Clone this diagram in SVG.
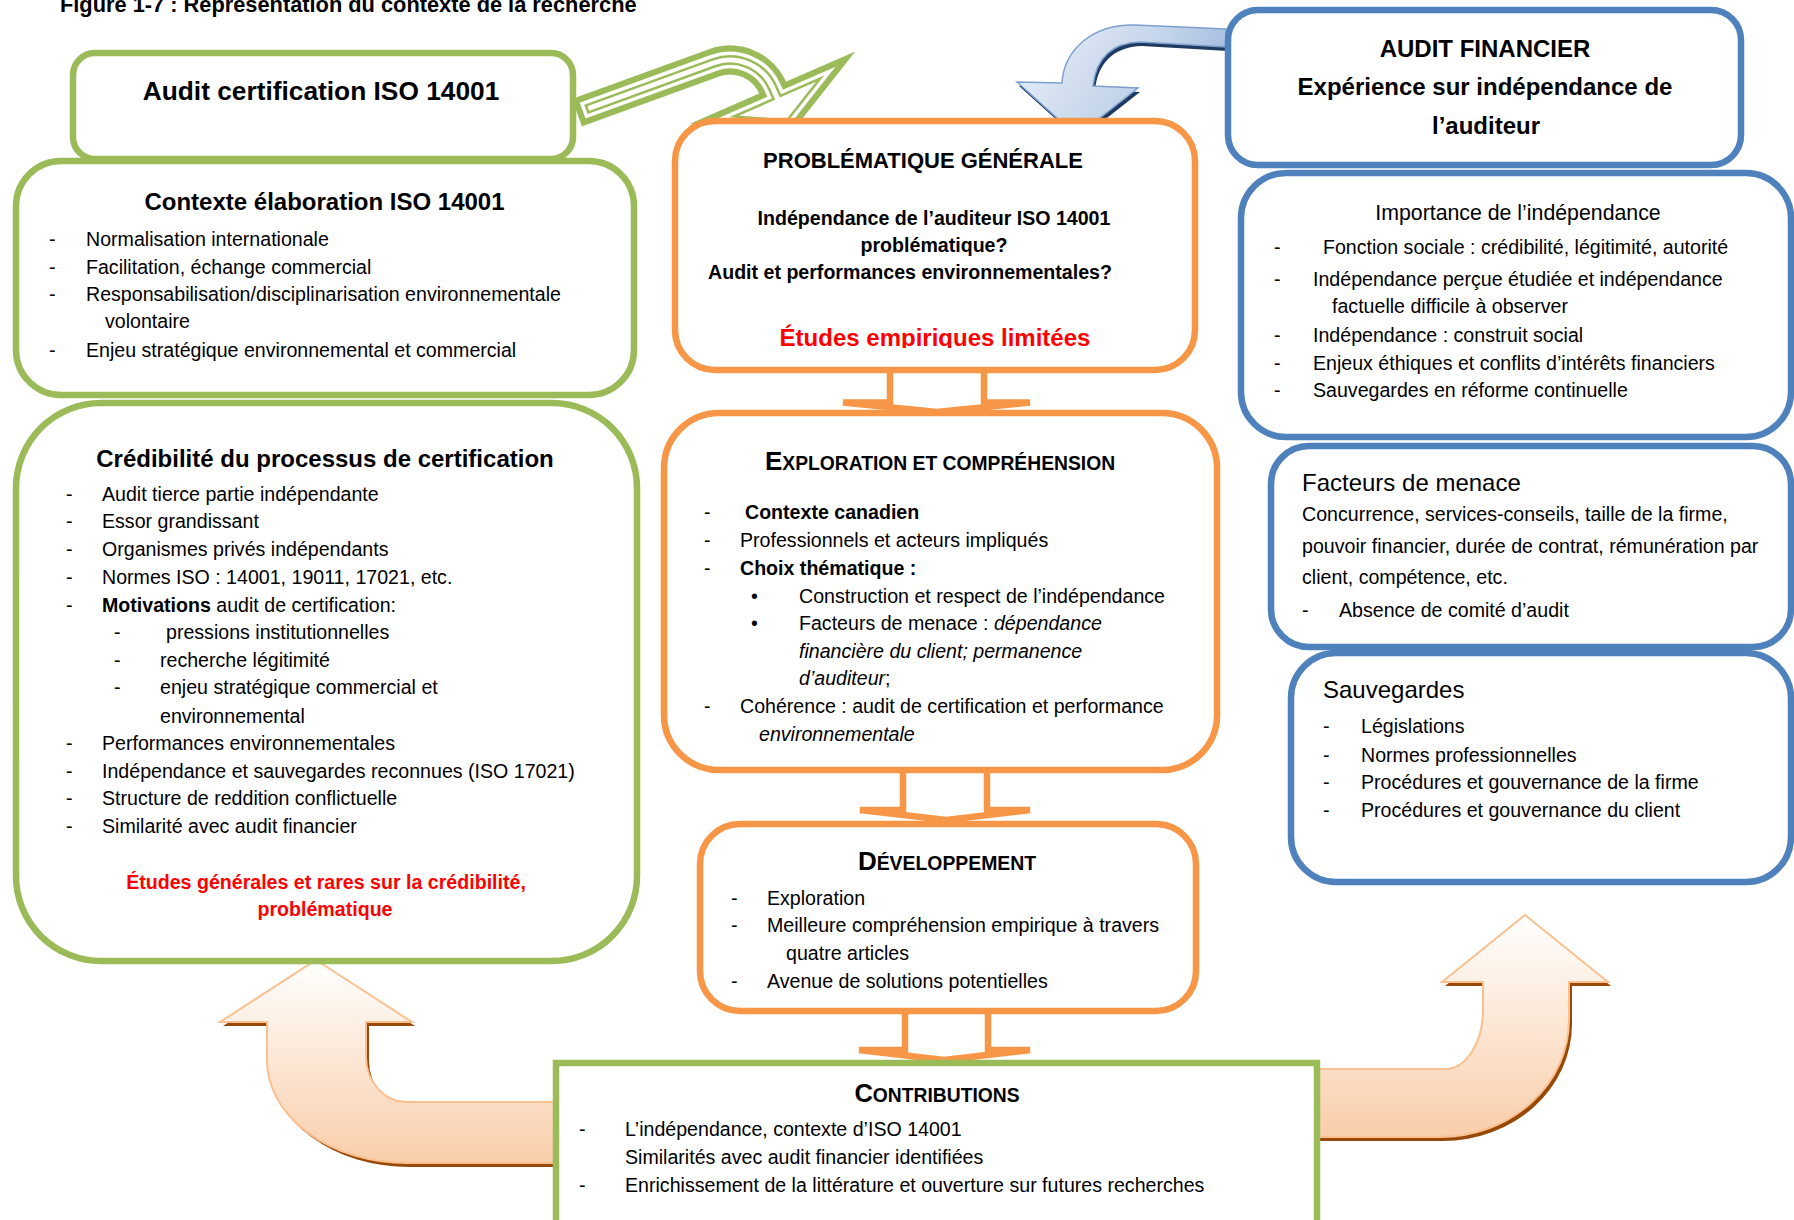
<svg xmlns="http://www.w3.org/2000/svg" width="1794" height="1220" viewBox="0 0 1794 1220">
  <defs>
    <style>
      text { font-family: 'Liberation Sans', Arial, sans-serif; font-size: 19.6px; fill: #000; }
      .b { font-weight: bold; }
      .i { font-style: italic; }
      .red { fill: #FF0000; }
      .c { text-anchor: middle; }
      .h24 { font-size: 24px; }
      .green { fill: #fff; stroke: #9BBB59; stroke-width: 6.5; }
      .orange { fill: #fff; stroke: #F79646; stroke-width: 6.5; }
      .blue { fill: #fff; stroke: #4F81BD; stroke-width: 6.5; }
      .conn { fill: none; stroke: #F79646; stroke-width: 6.5; stroke-linejoin: miter; }
      .uturn { fill: url(#peach); stroke: #FAC08F; stroke-width: 2; }
      .uturn-shadow { fill: #984807; }
    </style>
    <linearGradient id="peach" x1="0" y1="0" x2="0" y2="1">
      <stop offset="0" stop-color="#FFFFFF"/>
      <stop offset="1" stop-color="#F9CEAA"/>
    </linearGradient>
    <linearGradient id="sky" x1="0" y1="0.3" x2="1" y2="0.7">
      <stop offset="0" stop-color="#E6EDF7"/>
      <stop offset="0.55" stop-color="#C3D4EA"/>
      <stop offset="1" stop-color="#93B1DC"/>
    </linearGradient>
    <path id="curvedGreen" d="M572,99 L709.1,49.2 A61.2,61.2 0 0 1 785.9,81.8 L855,51.7 L791.9,131.7 L690.3,123.7 L759.4,93.6 A32.2,32.2 0 0 0 719,76.4 L582,126.2 Z"/>
    <clipPath id="curvedGreenClip">
      <use href="#curvedGreen"/>
    </clipPath>
    <path id="curvedBlue" d="M1226,29 L1135,25 C1092,24 1064,50 1062,83 L1017,82 L1077,136 L1138,88 L1093,86 C1096,60 1110,43 1140,42 L1226,47 Z"/>
    <path id="uLeft" d="M316,960 L412,1022 L366,1022 L366,1057 A41,45 0 0 0 407,1102 L560,1102 L560,1163 L407,1163 A140,103 0 0 1 267,1060 L267,1022 L220,1022 Z"/>
    <path id="uRight" d="M1525,915 L1608,982 L1569,982 L1569,1020 A129,117 0 0 1 1440,1137 L1300,1137 L1300,1069 L1445,1069 A38,59 0 0 0 1483,1010 L1483,982 L1442,982 Z"/>
    <clipPath id="redClip">
      <rect x="680" y="300" width="500" height="48"/>
    </clipPath>
  </defs>

  <rect width="1794" height="1220" fill="#fff"/>

  <g id="caption">
    <text x="60" y="12" class="b" style="font-size:21.8px">Figure 1-7 : Représentation du contexte de la recherche</text>
  </g>

  <!-- arrows and connectors, drawn beneath the boxes -->
  <g id="connectors">
    <!-- green double-outlined curved arrow -->
    <g id="arrow-audit-to-problem">
      <use href="#curvedGreen" fill="#fff"/>
      <g clip-path="url(#curvedGreenClip)" fill="none">
        <use href="#curvedGreen" stroke="#9BBB59" stroke-width="24"/>
        <use href="#curvedGreen" stroke="#fff" stroke-width="19"/>
        <use href="#curvedGreen" stroke="#9BBB59" stroke-width="12"/>
      </g>
    </g>
    <!-- blue curved arrow -->
    <g id="arrow-financial-to-problem">
      <use href="#curvedBlue" fill="#1F3A60" transform="translate(2,4)"/>
      <use href="#curvedBlue" fill="url(#sky)" stroke="#7E9FCE" stroke-width="1.5"/>
    </g>
    <!-- orange U-turn arrows -->
    <g id="arrow-contrib-left">
      <use href="#uLeft" class="uturn-shadow" transform="translate(3,4)"/>
      <use href="#uLeft" class="uturn"/>
    </g>
    <g id="arrow-contrib-right">
      <use href="#uRight" class="uturn-shadow" transform="translate(3,4)"/>
      <use href="#uRight" class="uturn"/>
    </g>
    <!-- flat block arrows down the middle column -->
    <path class="conn" d="M890,370 V402.5 H843 L937,412 L1030,402.5 H984 V370"/>
    <path class="conn" d="M903,770 V810 H860 L946,820 L1030,810 H987 V770"/>
    <path class="conn" d="M905,1011 V1050 H859 L944,1060 L1030,1050 H988 V1011"/>
  </g>

  <!-- left column -->
  <g id="audit-iso">
    <rect class="green" x="73" y="53" width="500" height="106" rx="22"/>
    <text x="321" y="100" class="b c" style="font-size:26.3px">Audit certification ISO 14001</text>
  </g>

  <g id="contexte-iso">
    <rect class="green" x="16" y="161" width="618" height="234" rx="45"/>
    <text x="324.5" y="210" class="b c h24">Contexte élaboration ISO 14001</text>
    <text x="49" y="246">-</text><text x="86" y="246">Normalisation internationale</text>
    <text x="49" y="274">-</text><text x="86" y="274">Facilitation, échange commercial</text>
    <text x="49" y="301">-</text><text x="86" y="301">Responsabilisation/disciplinarisation environnementale</text>
    <text x="105" y="328">volontaire</text>
    <text x="49" y="357">-</text><text x="86" y="357">Enjeu stratégique environnemental et commercial</text>
  </g>

  <g id="credibilite">
    <rect class="green" x="16" y="403" width="621" height="558" rx="85"/>
    <text x="325" y="467" class="b c h24">Crédibilité du processus de certification</text>
    <text x="66" y="500.5">-</text><text x="102" y="500.5">Audit tierce partie indépendante</text>
    <text x="66" y="528">-</text><text x="102" y="528">Essor grandissant</text>
    <text x="66" y="556">-</text><text x="102" y="556">Organismes privés indépendants</text>
    <text x="66" y="584">-</text><text x="102" y="584">Normes ISO : 14001, 19011, 17021, etc.</text>
    <text x="66" y="611.5">-</text><text x="102" y="611.5"><tspan class="b">Motivations</tspan> audit de certification:</text>
    <text x="114" y="639">-</text><text x="166" y="639">pressions institutionnelles</text>
    <text x="114" y="667">-</text><text x="160" y="667">recherche légitimité</text>
    <text x="114" y="694">-</text><text x="160" y="694">enjeu stratégique commercial et</text>
    <text x="160" y="722.5">environnemental</text>
    <text x="66" y="750">-</text><text x="102" y="750">Performances environnementales</text>
    <text x="66" y="778">-</text><text x="102" y="778">Indépendance et sauvegardes reconnues (ISO 17021)</text>
    <text x="66" y="805">-</text><text x="102" y="805">Structure de reddition conflictuelle</text>
    <text x="66" y="833">-</text><text x="102" y="833">Similarité avec audit financier</text>
    <text x="326" y="888.5" class="b c red">Études générales et rares sur la crédibilité,</text>
    <text x="325" y="916" class="b c red">problématique</text>
  </g>

  <!-- middle column -->
  <g id="problematique">
    <rect class="orange" x="675" y="121" width="520" height="249" rx="40"/>
    <text x="923" y="168" class="b c" style="font-size:22px">PROBLÉMATIQUE GÉNÉRALE</text>
    <text x="934" y="225" class="b c">Indépendance de l’auditeur ISO 14001</text>
    <text x="934" y="252" class="b c">problématique?</text>
    <text x="910" y="279" class="b c">Audit et performances environnementales?</text>
    <text x="935" y="346" class="b c h24 red" clip-path="url(#redClip)">Études empiriques limitées</text>
  </g>

  <g id="exploration">
    <rect class="orange" x="664" y="413" width="553" height="357" rx="55"/>
    <text x="940" y="470" class="b c" style="font-size:19.3px"><tspan style="font-size:26px">E</tspan>XPLORATION ET COMPRÉHENSION</text>
    <text x="704" y="519">-</text><text x="745" y="519" class="b">Contexte canadien</text>
    <text x="704" y="547">-</text><text x="740" y="547">Professionnels et acteurs impliqués</text>
    <text x="704" y="575">-</text><text x="740" y="575" class="b">Choix thématique :</text>
    <text x="751" y="603">•</text><text x="799" y="603">Construction et respect de l’indépendance</text>
    <text x="751" y="630">•</text><text x="799" y="630">Facteurs de menace : <tspan class="i">dépendance</tspan></text>
    <text x="799" y="658" class="i">financière du client; permanence</text>
    <text x="799" y="685"><tspan class="i">d’auditeur</tspan>;</text>
    <text x="704" y="713">-</text><text x="740" y="713">Cohérence : audit de certification et performance</text>
    <text x="759" y="741" class="i">environnementale</text>
  </g>

  <g id="developpement">
    <rect class="orange" x="700" y="824" width="496" height="187" rx="40"/>
    <text x="947" y="870" class="b c" style="font-size:19.4px"><tspan style="font-size:26px">D</tspan>ÉVELOPPEMENT</text>
    <text x="731" y="904.5">-</text><text x="767" y="904.5">Exploration</text>
    <text x="731" y="932">-</text><text x="767" y="932">Meilleure compréhension empirique à travers</text>
    <text x="786" y="960">quatre articles</text>
    <text x="731" y="988">-</text><text x="767" y="988">Avenue de solutions potentielles</text>
  </g>

  <g id="contributions">
    <rect class="green" x="556" y="1063" width="761" height="200"/>
    <text x="937" y="1102" class="b c" style="font-size:19.3px"><tspan style="font-size:25.5px">C</tspan>ONTRIBUTIONS</text>
    <text x="579" y="1135.5">-</text><text x="625" y="1135.5">L’indépendance, contexte d’ISO 14001</text>
    <text x="625" y="1163.5">Similarités avec audit financier identifiées</text>
    <text x="579" y="1192">-</text><text x="625" y="1192">Enrichissement de la littérature et ouverture sur futures recherches</text>
  </g>

  <!-- right column -->
  <g id="audit-financier">
    <rect class="blue" x="1228" y="10" width="513" height="155" rx="30"/>
    <text x="1485" y="56.5" class="b c h24">AUDIT FINANCIER</text>
    <text x="1485" y="95" class="b c h24">Expérience sur indépendance de</text>
    <text x="1486" y="133.5" class="b c h24">l’auditeur</text>
  </g>

  <g id="importance">
    <rect class="blue" x="1241" y="173" width="550" height="264" rx="45"/>
    <text x="1518" y="220" class="c" style="font-size:21.3px">Importance de l’indépendance</text>
    <text x="1274" y="253.5">-</text><text x="1323" y="253.5">Fonction sociale : crédibilité, légitimité, autorité</text>
    <text x="1274" y="285.5">-</text><text x="1313" y="285.5">Indépendance perçue étudiée et indépendance</text>
    <text x="1332" y="313">factuelle difficile à observer</text>
    <text x="1274" y="341.5">-</text><text x="1313" y="341.5">Indépendance : construit social</text>
    <text x="1274" y="369.5">-</text><text x="1313" y="369.5">Enjeux éthiques et conflits d’intérêts financiers</text>
    <text x="1274" y="397">-</text><text x="1313" y="397">Sauvegardes en réforme continuelle</text>
  </g>

  <g id="facteurs">
    <rect class="blue" x="1271" y="446" width="520" height="201" rx="38"/>
    <text x="1302" y="490.5" class="h24">Facteurs de menace</text>
    <text x="1302" y="520.5">Concurrence, services-conseils, taille de la firme,</text>
    <text x="1302" y="552.5">pouvoir financier, durée de contrat, rémunération par</text>
    <text x="1302" y="583.5">client, compétence, etc.</text>
    <text x="1302" y="617">-</text><text x="1339" y="617">Absence de comité d’audit</text>
  </g>

  <g id="sauvegardes">
    <rect class="blue" x="1291" y="653" width="500" height="229" rx="45"/>
    <text x="1323" y="697.5" class="h24">Sauvegardes</text>
    <text x="1323" y="733">-</text><text x="1361" y="733">Législations</text>
    <text x="1323" y="761.5">-</text><text x="1361" y="761.5">Normes professionnelles</text>
    <text x="1323" y="789">-</text><text x="1361" y="789">Procédures et gouvernance de la firme</text>
    <text x="1323" y="817">-</text><text x="1361" y="817">Procédures et gouvernance du client</text>
  </g>
</svg>
